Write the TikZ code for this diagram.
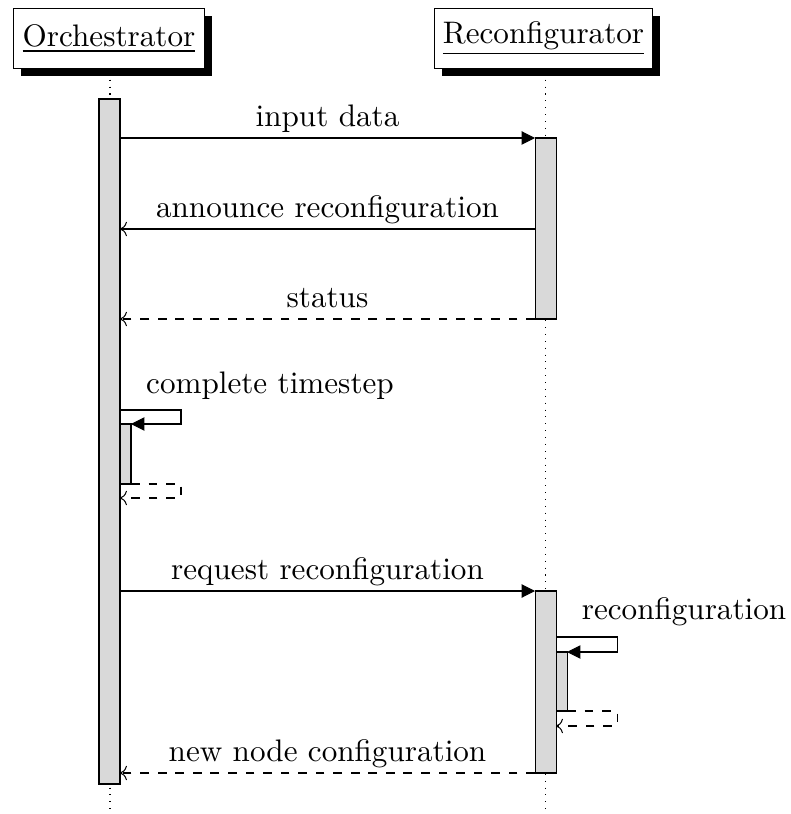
\documentclass[tikz,border=0pt]{standalone}
\usetikzlibrary{arrows.meta}
\begin{document}
\begin{tikzpicture}[x=0.342pt,y=-0.342pt,font=\fontsize{10.65}{13}\selectfont,
  actor/.style={draw,fill=white,line width=0.35pt,inner sep=0pt,minimum height=60*0.342pt,anchor=north west},
  shade/.style={fill=black},
  bar/.style={draw,fill=black!15,line width=0.35pt},
  life/.style={dotted,line width=0.35pt},
  call/.style={line width=0.35pt,-{Triangle[length=4.6pt,width=4.6pt]}},
  ret/.style={dashed,line width=0.35pt,-To},
  lbl/.style={inner sep=0pt,anchor=base,yshift=3.8pt}]
\useasboundingbox (0,0) rectangle (790,814);

% lifelines
\draw[life] (110,66) -- (110,814);
\draw[life] (545,66) -- (545,814);

% actor heads with drop shadows
\fill[shade] (21,16) rectangle (212,76);
\node[actor,minimum width=191*0.342pt] (orch) at (13,8) {\underline{Orchestrator}};
\fill[shade] (442,16) rectangle (660,76);
\node[actor,minimum width=218*0.342pt] (reco) at (434,8) {\underline{Reconfigurator}};

% activation bars
\draw[bar] (99,99) rectangle (120,784);
\draw[bar] (535,138) rectangle (556,319);
\draw[bar] (535,591) rectangle (556,773);
\draw[bar] (120,424) rectangle (131,484);
\draw[bar] (556,652) rectangle (567,711);

% message anchors
\coordinate (a1) at (120,138); \coordinate (b1) at (535,138);
\coordinate (a2) at (120,229); \coordinate (b2) at (535,229);
\coordinate (a3) at (120,319); \coordinate (b3) at (535,319);
\coordinate (a4) at (120,591); \coordinate (b4) at (535,591);
\coordinate (a5) at (120,773); \coordinate (b5) at (535,773);

\draw[call] (a1) -- node[lbl] {input data} (b1);
\draw[line width=0.35pt,-To] (b2) -- node[lbl] {announce reconfiguration} (a2);
\draw[ret] (b3) -- node[lbl] {status} (a3);
\draw[call] (a4) -- node[lbl] {request reconfiguration} (b4);
\draw[ret] (b5) -- node[lbl] {new node configuration} (a5);

% self call: complete timestep
\coordinate (s1) at (120,410); \coordinate (s1r) at (181,410);
\coordinate (s1e) at (131,424);
\draw[call] (s1) -- (s1r) |- (s1e);
\node[inner sep=0pt] (t1) at (270,386) {complete timestep};
\coordinate (r1) at (131,484); \coordinate (r1e) at (120,498);
\draw[ret] (r1) -- (181,484) |- (r1e);

% self call: reconfiguration
\coordinate (s2) at (556,637); \coordinate (s2e) at (567,652);
\draw[call] (s2) -- (617,637) |- (s2e);
\node[inner sep=0pt] (t2) at (684,612) {reconfiguration};
\coordinate (r2) at (567,711); \coordinate (r2e) at (556,726);
\draw[ret] (r2) -- (617,711) |- (r2e);
\end{tikzpicture}
\end{document}
